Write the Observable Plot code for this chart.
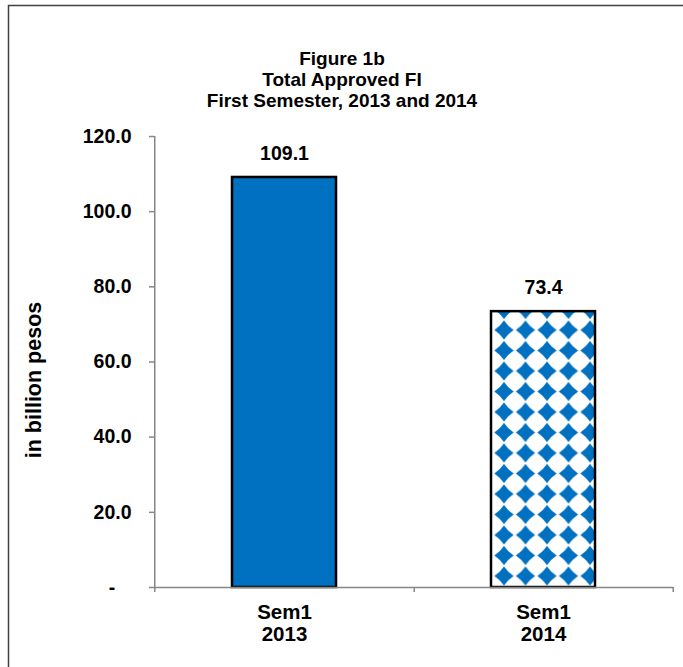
<!DOCTYPE html>
<html>
<head>
<meta charset="utf-8">
<script src="https://cdn.jsdelivr.net/npm/d3@7"></script>
<script src="https://cdn.jsdelivr.net/npm/@observablehq/plot@0.6"></script>
<style>
  html, body { margin: 0; padding: 0; background: #fff; }
</style>
</head>
<body>
<div id="chart"></div>
<script>
const categories = ["Sem1\n2013", "Sem1\n2014"];
const values = [109.1, 73.4];
const valueLabels = ["109.1", "73.4"];
const yTicks = [0, 20, 40, 60, 80, 100, 120];
const titleLines = ["Figure 1b", "Total Approved FI", "First Semester, 2013 and 2014"];
const yLabel = "in billion pesos";

const data = categories.map((c, i) => ({cat: c, value: values[i], label: valueLabels[i]}));
const FONT = "'Liberation Sans', Arial, sans-serif";
const FS = 19;
const AXIS = "#868686";

const plot = Plot.plot({
  width: 683,
  height: 667,
  marginLeft: 154,
  marginRight: 10,
  marginTop: 136,
  marginBottom: 80,
  style: {fontFamily: FONT, fontWeight: "bold", fontSize: FS + "px", color: "black", background: "white"},
  x: {type: "band", domain: categories, paddingInner: 0.6, paddingOuter: 0.3, axis: null},
  y: {domain: [0, 120], axis: null},
  marks: [
    Plot.barY(data.slice(0, 1), {x: "cat", y: "value", fill: "#0070C0", stroke: "black", strokeWidth: 2.5}),
    Plot.barY(data.slice(1), {x: "cat", y: "value", fill: "url(#diamonds)", stroke: "black", strokeWidth: 2.5}),
    Plot.text(data, {x: "cat", y: "value", text: "label", dy: -24, fontSize: 19.5, fontWeight: "bold"}),
    Plot.ruleY([0], {stroke: AXIS, strokeWidth: 1.5}),
    Plot.ruleX(categories.slice(0, 1), {x: d => d, dx: -129.75, y1: 120, y2: 0, insetBottom: -5, stroke: AXIS, strokeWidth: 1.5}),
    Plot.ruleX(categories, {x: d => d, dx: 129.75, y1: 0, y2: 0, insetBottom: -5, stroke: AXIS, strokeWidth: 1.5}),
    Plot.axisY({
      ticks: yTicks,
      tickSize: 5,
      tickPadding: 18,
      stroke: AXIS,
      strokeWidth: 1.5,
      label: null,
      tickFormat: d => d === 0 ? "-\u00a0\u00a0\u00a0" : d.toFixed(1),
      fontSize: 19.5
    }),
    Plot.axisX({
      tickSize: 0,
      tickPadding: 15,
      lineHeight: 1.1,
      label: null,
      fontSize: 20.5
    })
  ]
});

const svg = d3.select(plot);
const defs = svg.insert("defs", ":first-child");
const pw = 21.5, ph = 20.5, r = 9.6, k = 3.9;
const cx = pw / 2, cy = ph / 2;
const pat = defs.append("pattern")
  .attr("id", "diamonds")
  .attr("patternUnits", "userSpaceOnUse")
  .attr("x", 493.25).attr("y", 319.75)
  .attr("width", pw).attr("height", ph);
pat.append("rect").attr("width", pw).attr("height", ph).attr("fill", "white");
pat.append("path")
  .attr("fill", "#0070C0")
  .attr("d", `M${cx - r},${cy} Q${cx - k},${cy - k} ${cx},${cy - r} Q${cx + k},${cy - k} ${cx + r},${cy} Q${cx + k},${cy + k} ${cx},${cy + r} Q${cx - k},${cy + k} ${cx - r},${cy} Z`);

svg.append("rect")
  .attr("x", 8.5).attr("y", 5.5).attr("width", 720).attr("height", 720)
  .attr("fill", "none").attr("stroke", "#404040").attr("stroke-width", 1.5);

const tg = svg.append("g").attr("text-anchor", "middle").attr("font-family", FONT)
  .attr("font-weight", "bold").attr("font-size", 19).attr("fill", "black");
titleLines.forEach((t, i) => {
  tg.append("text").attr("x", 342).attr("y", 64.8 + i * 21.2).text(t);
});

svg.append("text")
  .attr("transform", "translate(41,380) rotate(-90)")
  .attr("text-anchor", "middle")
  .attr("font-family", FONT).attr("font-weight", "bold").attr("font-size", 21.5)
  .attr("fill", "black")
  .text(yLabel);

document.getElementById("chart").appendChild(plot);
</script>
</body>
</html>
